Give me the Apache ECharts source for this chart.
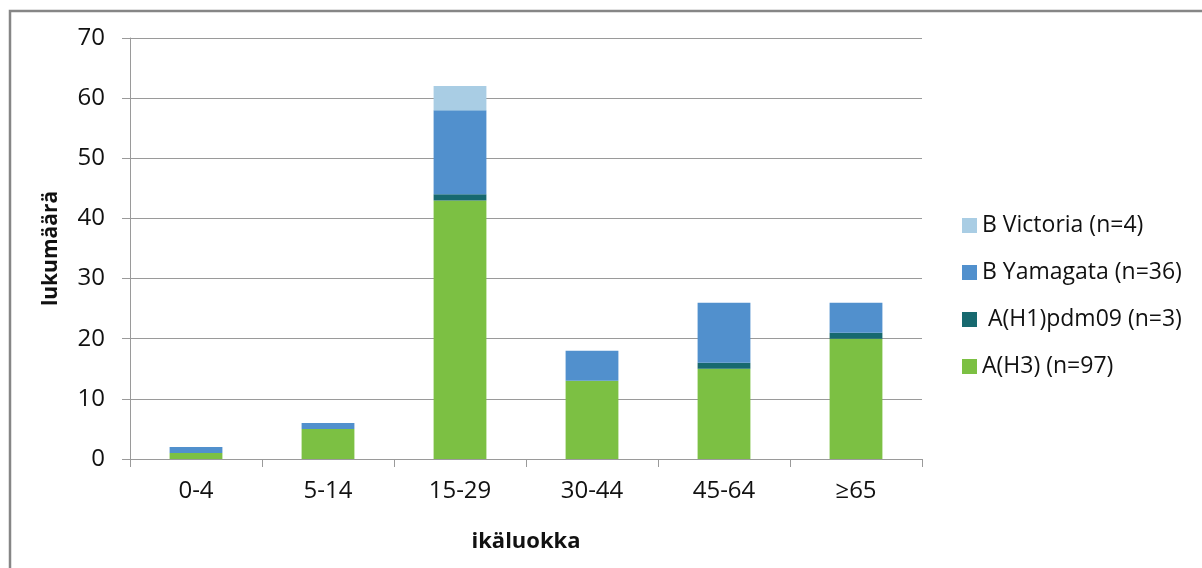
<!DOCTYPE html>
<html>
<head>
<meta charset="utf-8">
<script src="https://cdn.jsdelivr.net/npm/echarts@6/dist/echarts.min.js"></script>
<style>
  html, body { margin: 0; padding: 0; background: #fff; }
  #main { width: 1202px; height: 568px; }
</style>
</head>
<body>
<div id="main"></div>
<script>
var categories = ['0-4', '5-14', '15-29', '30-44', '45-64', '≥65'];
var h3 = [1, 5, 43, 13, 15, 20];
var h1pdm = [0, 0, 1, 0, 1, 1];
var yamagata = [1, 1, 14, 5, 10, 5];
var victoria = [0, 0, 4, 0, 0, 0];

var font = '"Open Sans", "Noto Sans", sans-serif';
var chart = echarts.init(document.getElementById('main'));

function stackSeries(name, data, color) {
    return {
        name: name,
        type: 'bar',
        stack: 'total',
        barWidth: '40%',
        data: data,
        itemStyle: { color: color },
        emphasis: { disabled: true }
    };
}

var option = {
    animation: false,
    textStyle: { fontFamily: font },
    graphic: [{
        type: 'rect',
        shape: { x: 10, y: 11, width: 1210, height: 600 },
        style: { fill: 'none', stroke: '#868686', lineWidth: 2.5 },
        silent: true
    }],
    grid: { left: 130, right: 280, top: 38, bottom: 109 },
    legend: {
        orient: 'vertical',
        left: 957,
        top: 209,
        itemWidth: 15,
        itemHeight: 15,
        itemGap: 24,
        icon: 'rect',
        textStyle: { fontSize: 23, color: '#111', fontFamily: font },
        data: ['B Victoria (n=4)', 'B Yamagata (n=36)', ' A(H1)pdm09 (n=3)', 'A(H3) (n=97)']
    },
    xAxis: {
        type: 'category',
        data: categories,
        name: 'ikäluokka',
        nameLocation: 'middle',
        nameGap: 72,
        nameTextStyle: { fontSize: 22, fontWeight: 'bold', color: '#111', fontFamily: font },
        axisLine: { lineStyle: { color: '#9a9a9a', width: 1 } },
        axisTick: { show: true, length: 8, alignWithLabel: false, lineStyle: { color: '#9a9a9a' } },
        axisLabel: { fontSize: 24, color: '#111', margin: 20, fontFamily: font }
    },
    yAxis: {
        type: 'value',
        min: 0,
        max: 70,
        interval: 10,
        name: 'lukumäärä',
        nameLocation: 'middle',
        nameGap: 68,
        nameTextStyle: { fontSize: 21, fontWeight: 'bold', color: '#111', fontFamily: font },
        axisLine: { show: true, lineStyle: { color: '#9a9a9a', width: 1 } },
        axisTick: { show: true, length: 8, lineStyle: { color: '#9a9a9a' } },
        axisLabel: { fontSize: 24, color: '#111', margin: 25, fontFamily: font },
        splitLine: { lineStyle: { color: '#9a9a9a', width: 1 } }
    },
    series: [
        stackSeries('A(H3) (n=97)', h3, '#7cc043'),
        stackSeries(' A(H1)pdm09 (n=3)', h1pdm, '#17696f'),
        stackSeries('B Yamagata (n=36)', yamagata, '#5190cd'),
        stackSeries('B Victoria (n=4)', victoria, '#a9cde4')
    ]
};
chart.setOption(option);
</script>
</body>
</html>
